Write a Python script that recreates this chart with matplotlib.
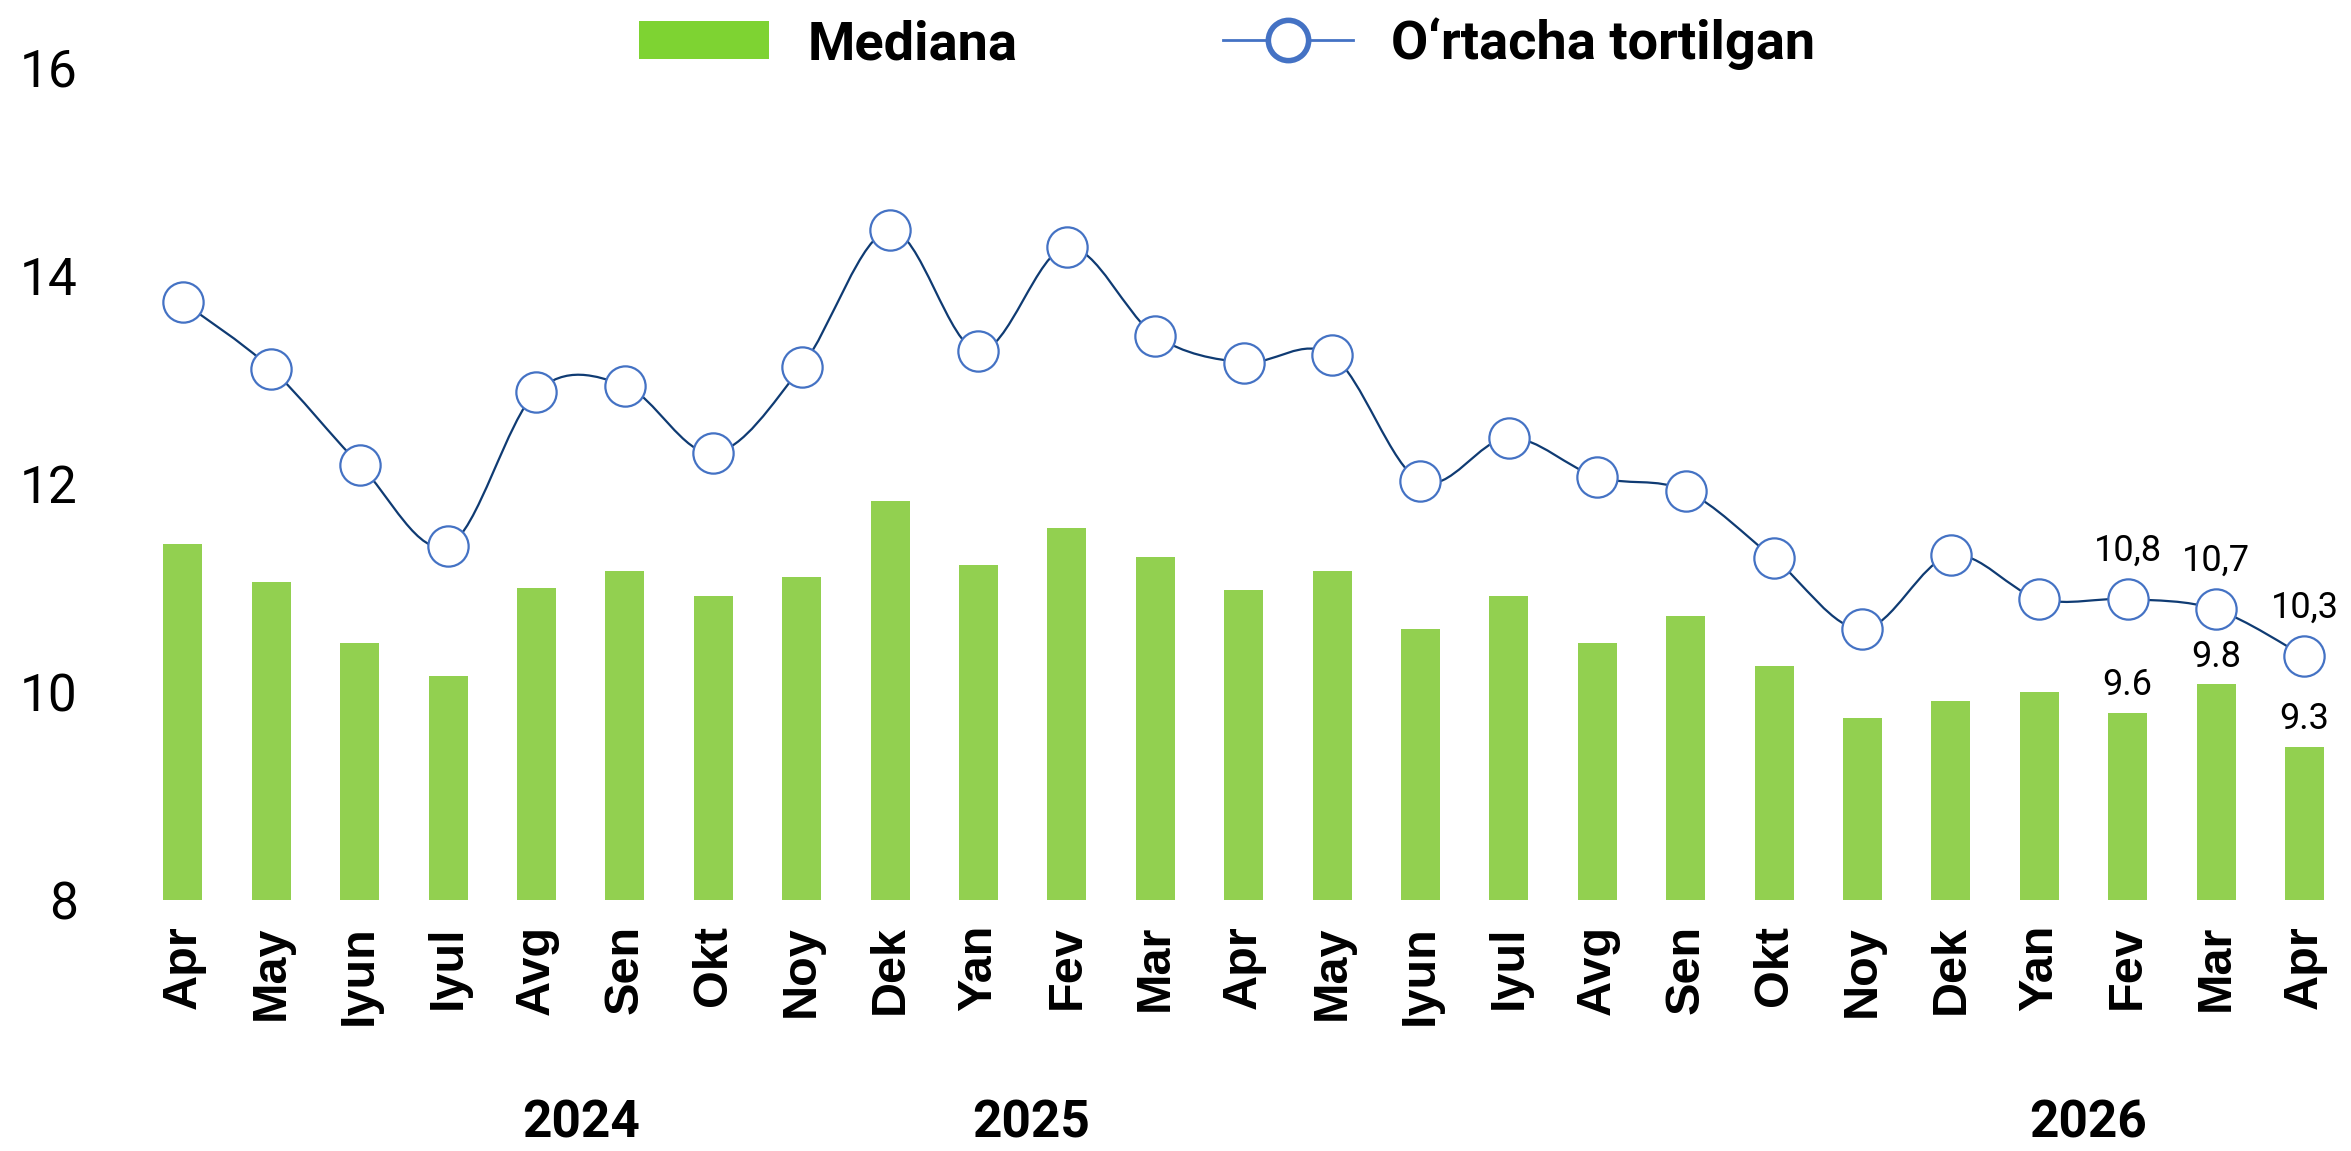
import matplotlib
matplotlib.use("Agg")
import matplotlib.pyplot as plt
from matplotlib.path import Path
from matplotlib.patches import PathPatch, Patch
from matplotlib.lines import Line2D
from matplotlib.transforms import blended_transform_factory

months = ["Apr", "May", "Iyun", "Iyul", "Avg", "Sen", "Okt", "Noy", "Dek", "Yan", "Fev", "Mar",
          "Apr", "May", "Iyun", "Iyul", "Avg", "Sen", "Okt", "Noy", "Dek", "Yan", "Fev", "Mar", "Apr"]
median = [11.42, 11.05, 10.47, 10.15, 11.0, 11.16, 10.92, 11.1, 11.83, 11.22, 11.57, 11.29,
          10.98, 11.16, 10.6, 10.92, 10.47, 10.73, 10.25, 9.75, 9.91, 10.0, 9.8, 10.07, 9.47]
weighted = [13.74, 13.1, 12.18, 11.4, 12.88, 12.94, 12.29, 13.12, 14.43, 13.27, 14.27, 13.42,
            13.16, 13.23, 12.02, 12.44, 12.06, 11.93, 11.28, 10.6, 11.31, 10.89, 10.89, 10.79, 10.34]
years = ["2024", "2025", "2026"]
year_pos = [4.5, 9.6, 21.55]
# last three points carry value labels
label_idx = [22, 23, 24]
median_labels = ["9.6", "9.8", "9.3"]
weighted_labels = ["10,8", "10,7", "10,3"]

bar_color = "#92d050"
line_color = "#0f3b73"
marker_edge = "#4472c4"

fig = plt.figure(figsize=(23.51, 11.51), dpi=100)
ax = fig.add_axes([0.059, 0.218, 0.94, 0.724])

x = list(range(len(months)))
ax.bar(x, median, width=0.44, color=bar_color, zorder=1)

# smoothed line, like Excel: bezier segments through the points
n = len(x)
verts = [(x[0], weighted[0])]
codes = [Path.MOVETO]
for i in range(n - 1):
    p0 = (x[max(i - 1, 0)], weighted[max(i - 1, 0)])
    p1 = (x[i], weighted[i])
    p2 = (x[i + 1], weighted[i + 1])
    p3 = (x[min(i + 2, n - 1)], weighted[min(i + 2, n - 1)])
    c1 = (p1[0] + (p2[0] - p0[0]) / 6, p1[1] + (p2[1] - p0[1]) / 6)
    c2 = (p2[0] - (p3[0] - p1[0]) / 6, p2[1] - (p3[1] - p1[1]) / 6)
    verts += [c1, c2, p2]
    codes += [Path.CURVE4] * 3
ax.add_patch(PathPatch(Path(verts, codes), fill=False, edgecolor=line_color, lw=1.6, zorder=2))
ax.plot(x, weighted, ls="none", marker="o", markersize=29, markerfacecolor="white",
        markeredgecolor=marker_edge, markeredgewidth=1.6, zorder=3)

for i, lab in zip(label_idx, weighted_labels):
    ax.annotate(lab, (x[i], weighted[i]), xytext=(0, 35), textcoords="offset points",
                ha="center", va="center", fontsize=26, family="Roboto")
for i, lab in zip(label_idx, median_labels):
    ax.annotate(lab, (x[i], median[i]), xytext=(0, 20), textcoords="offset points",
                ha="center", va="center", fontsize=26, family="Roboto")

ax.set_ylim(8, 16)
ax.set_xlim(-0.5, n - 0.5)
ax.set_yticks([8, 10, 12, 14, 16])
ax.set_xticks(x)
ax.set_xticklabels(months, rotation=90, fontsize=35, fontweight="bold", family="Liberation Sans")
for t in ax.get_yticklabels():
    t.set_family("Roboto")
    t.set_fontsize(37)
ax.tick_params(axis="both", length=0)
ax.tick_params(axis="x", pad=18)
ax.tick_params(axis="y", pad=44)
for s in ax.spines.values():
    s.set_visible(False)

trans = blended_transform_factory(ax.transData, fig.transFigure)
for yr, xp in zip(years, year_pos):
    ax.text(xp, 0.024, yr, transform=trans, ha="center", va="center", fontsize=37,
            fontweight="bold", family=["Liberation Sans Narrow", "Roboto"])

handles = [Patch(facecolor="#7ed332", edgecolor="none"),
           Line2D([], [], color=marker_edge, lw=2, marker="o", markersize=29,
                  markerfacecolor="white", markeredgecolor=marker_edge, markeredgewidth=4)]
fig.legend(handles, ["Mediana", "O\u2018rtacha tortilgan"], loc="center",
           bbox_to_anchor=(0.522, 0.962), ncol=2, frameon=False, handlelength=2.4, handleheight=0.7,
           columnspacing=3.8, handletextpad=0.7, borderpad=0,
           prop={"family": "Roboto", "weight": "bold", "size": 39})

fig.savefig("out.png", dpi=100)
